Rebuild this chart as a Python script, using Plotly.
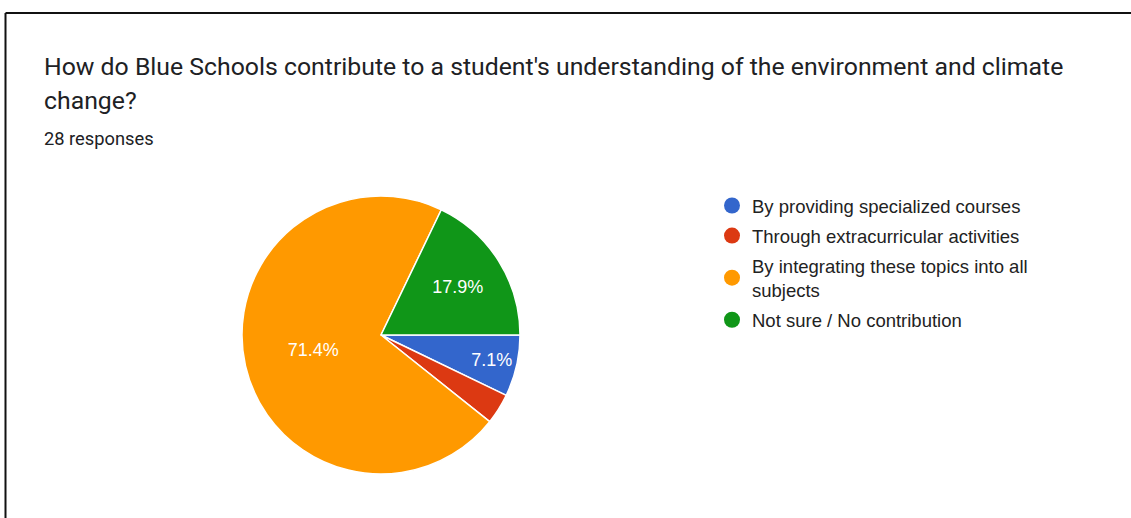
import plotly.graph_objects as go

# Survey answers and response counts
categories = [
    "By providing specialized courses",
    "Through extracurricular activities",
    "By integrating these topics into all<br>subjects",
    "Not sure / No contribution",
]
counts = [2, 1, 20, 5]
colors = ["#3366CC", "#DC3912", "#FF9900", "#109618"]
# percentage shown inside each slice (tiny slices left unlabeled)
slice_text = ["%{percent:.1%}", "", "%{percent:.1%}", "%{percent:.1%}"]

title_line1 = "How do Blue Schools contribute to a student's understanding of the environment and climate"
title_line2 = "change?"
subtitle = "28 responses"

W, H = 1131, 518
TITLE_FONT = "Roboto, Arial, sans-serif"
CHART_FONT = "Arial, 'Liberation Sans', sans-serif"

fig = go.Figure()

fig.add_trace(go.Pie(
    labels=categories,
    values=counts,
    sort=False,
    direction="clockwise",
    rotation=90,
    marker=dict(colors=colors, line=dict(color="white", width=1.5)),
    texttemplate=slice_text,
    textposition="inside",
    insidetextorientation="horizontal",
    textfont=dict(family=CHART_FONT, size=18, color="white"),
    hoverinfo="label+value+percent",
    showlegend=False,
    domain=dict(x=[(381 - 139) / W, (381 + 139) / W],
                y=[(H - 335 - 139) / H, (H - 335 + 139) / H]),
))

# Legend entries with round swatches
for name, col in zip(categories, colors):
    fig.add_trace(go.Scatter(
        x=[None], y=[None], mode="markers", name=name,
        legendgroup=name,
        marker=dict(symbol="circle", size=18, color=col),
        hoverinfo="skip",
    ))

fig.update_layout(
    width=W, height=H,
    margin=dict(l=0, r=0, t=0, b=0),
    paper_bgcolor="white",
    plot_bgcolor="white",
    xaxis=dict(visible=False),
    yaxis=dict(visible=False),
    legend=dict(
        x=712 / W, y=(H - 187) / H, xanchor="left", yanchor="top",
        font=dict(family=CHART_FONT, size=18.5, color="#222222"),
        tracegroupgap=3,
        bgcolor="rgba(0,0,0,0)",
    ),
    annotations=[
        dict(text=title_line1, x=42 / W, y=1 - 67 / H, xref="paper", yref="paper",
             xanchor="left", yanchor="middle", showarrow=False,
             font=dict(family=TITLE_FONT, size=24.8, color="#202124")),
        dict(text=title_line2, x=42 / W, y=1 - 101 / H, xref="paper", yref="paper",
             xanchor="left", yanchor="middle", showarrow=False,
             font=dict(family=TITLE_FONT, size=24.8, color="#202124")),
        dict(text=subtitle, x=42 / W, y=1 - 138 / H, xref="paper", yref="paper",
             xanchor="left", yanchor="middle", showarrow=False,
             font=dict(family=TITLE_FONT, size=18.3, color="#202124")),
    ],
    shapes=[
        dict(type="line", xref="paper", yref="paper", x0=5.5 / W, x1=1, y0=1 - 13 / H, y1=1 - 13 / H,
             line=dict(color="#111111", width=2)),
        dict(type="line", xref="paper", yref="paper", x0=5.5 / W, x1=5.5 / W, y0=0, y1=1 - 13 / H,
             line=dict(color="#111111", width=2)),
    ],
)

fig.write_html("out.html")
